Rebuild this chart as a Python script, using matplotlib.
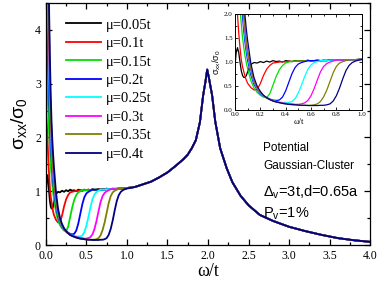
import numpy as np
import matplotlib
matplotlib.use("Agg")
import matplotlib.pyplot as plt
from matplotlib.ticker import MultipleLocator

plt.rcParams['font.family'] = 'serif'
plt.rcParams['font.serif'] = ['Liberation Serif', 'DejaVu Serif']
plt.rcParams['mathtext.fontset'] = 'custom'
plt.rcParams['mathtext.rm'] = 'Liberation Sans'
plt.rcParams['mathtext.it'] = 'Liberation Sans'

# frequency grid (omega/t) below 1.0, shared by all curves
w_low = [0.00, 0.01, 0.02, 0.03, 0.04, 0.05, 0.06, 0.07, 0.08, 0.09, 0.10,
         0.125, 0.15, 0.175, 0.2, 0.225, 0.25, 0.275, 0.3, 0.325, 0.35, 0.375,
         0.4, 0.425, 0.45, 0.475, 0.5, 0.525, 0.55, 0.575, 0.6, 0.625, 0.65,
         0.675, 0.7, 0.725, 0.75, 0.775, 0.8, 0.825, 0.85, 0.875, 0.9, 0.925,
         0.95, 0.975, 1.0]

labels = ["μ=0.05t", "μ=0.1t", "μ=0.15t", "μ=0.2t",
          "μ=0.25t", "μ=0.3t", "μ=0.35t", "μ=0.4t"]
colors = ["#000000", "#ff0000", "#00e000", "#0000ff",
          "#00ffff", "#ff00ff", "#808000", "#000080"]

s_005 = [0.9, 1.2, 1.3, 1.2, 1.0, 0.82, 0.72, 0.68, 0.68, 0.72, 0.8,
         0.95, 0.99, 0.98, 1.01, 0.99, 1.02, 1.0, 1.03, 1.01, 1.02,
         1.0, 1.03, 1.02, 1.01, 1.03, 1.02, 1.03, 1.02, 1.04, 1.02,
         1.03, 1.04, 1.03, 1.04, 1.03, 1.05, 1.04, 1.04, 1.05, 1.04,
         1.05, 1.05, 1.05, 1.05, 1.06, 1.06]
s_010 = [2.5, 2.3, 2.0, 1.6, 1.3, 1.05, 0.9, 0.8, 0.7, 0.62, 0.56,
         0.47, 0.42, 0.43, 0.55, 0.72, 0.85, 0.93, 0.98, 0.99, 1.0,
         1.01, 1.0, 1.02, 1.01, 1.02, 1.02, 1.03, 1.02, 1.03, 1.03,
         1.03, 1.04, 1.03, 1.03, 1.04, 1.04, 1.04, 1.04, 1.04, 1.05,
         1.04, 1.05, 1.05, 1.05, 1.05, 1.06]
s_015 = [4.0, 3.6, 3.0, 2.5, 2.1, 1.8, 1.5, 1.3, 1.12, 0.98, 0.86,
         0.62, 0.46, 0.37, 0.31, 0.27, 0.26, 0.34, 0.52, 0.7, 0.84,
         0.93, 0.98, 1.0, 1.02, 1.02, 1.02, 1.02, 1.02, 1.03, 1.03,
         1.03, 1.03, 1.03, 1.03, 1.03, 1.04, 1.04, 1.04, 1.04, 1.04,
         1.04, 1.05, 1.05, 1.05, 1.05, 1.06]
s_020 = [5.5, 5.0, 4.2, 3.4, 2.8, 2.3, 1.95, 1.65, 1.4, 1.2, 1.04,
         0.74, 0.54, 0.42, 0.34, 0.29, 0.26, 0.23, 0.21, 0.2, 0.21,
         0.27, 0.4, 0.58, 0.76, 0.89, 0.96, 0.99, 1.01, 1.03, 1.03,
         1.03, 1.03, 1.03, 1.03, 1.03, 1.04, 1.04, 1.04, 1.04, 1.04,
         1.04, 1.05, 1.05, 1.05, 1.05, 1.06]
s_025 = [6.5, 6.0, 5.0, 4.0, 3.2, 2.6, 2.15, 1.8, 1.52, 1.3, 1.12,
         0.8, 0.58, 0.44, 0.35, 0.29, 0.25, 0.22, 0.2, 0.18, 0.17,
         0.16, 0.16, 0.16, 0.18, 0.24, 0.36, 0.52, 0.7, 0.85, 0.94,
         0.99, 1.01, 1.03, 1.03, 1.03, 1.04, 1.04, 1.04, 1.04, 1.04,
         1.04, 1.05, 1.05, 1.05, 1.05, 1.06]
s_030 = [7.5, 7.0, 5.8, 4.6, 3.6, 2.9, 2.35, 1.95, 1.62, 1.38, 1.18,
         0.84, 0.6, 0.45, 0.36, 0.3, 0.25, 0.22, 0.19, 0.17, 0.16,
         0.15, 0.14, 0.13, 0.13, 0.12, 0.12, 0.13, 0.15, 0.2, 0.3,
         0.45, 0.63, 0.8, 0.91, 0.97, 1.0, 1.02, 1.04, 1.04, 1.04,
         1.04, 1.05, 1.05, 1.05, 1.05, 1.06]
s_035 = [8.5, 7.9, 6.5, 5.1, 4.0, 3.1, 2.5, 2.05, 1.7, 1.44, 1.24,
         0.87, 0.62, 0.46, 0.37, 0.3, 0.25, 0.22, 0.19, 0.17, 0.155,
         0.14, 0.13, 0.12, 0.115, 0.11, 0.105, 0.1, 0.1, 0.1, 0.1,
         0.11, 0.13, 0.18, 0.28, 0.42, 0.6, 0.78, 0.91, 0.98, 1.01,
         1.03, 1.05, 1.05, 1.05, 1.05, 1.06]
s_040 = [9.5, 8.8, 7.2, 5.6, 4.4, 3.5, 2.8, 2.3, 1.95, 1.68, 1.45,
         0.98, 0.68, 0.5, 0.39, 0.31, 0.26, 0.22, 0.19, 0.17, 0.155,
         0.14, 0.13, 0.12, 0.115, 0.11, 0.105, 0.1, 0.1, 0.095, 0.095,
         0.095, 0.095, 0.1, 0.1, 0.11, 0.13, 0.19, 0.3, 0.46, 0.65,
         0.82, 0.93, 0.99, 1.02, 1.04, 1.05]
curves = [s_005, s_010, s_015, s_020, s_025, s_030, s_035, s_040]

# common high-frequency part (all curves coincide)
w_high = [1.1, 1.2, 1.3, 1.4, 1.5, 1.6, 1.7, 1.75, 1.8, 1.85, 1.9, 1.94,
          1.97, 1.99, 2.01, 2.03, 2.05, 2.09, 2.15, 2.23, 2.3, 2.4, 2.5,
          2.64, 2.8, 3.0, 3.2, 3.4, 3.6, 3.8, 4.0]
s_high = [1.08, 1.13, 1.18, 1.26, 1.35, 1.47, 1.6, 1.68, 1.8, 1.95, 2.28,
          2.78, 3.05, 3.26, 3.12, 2.95, 2.79, 2.29, 1.8, 1.43, 1.17, 0.92,
          0.74, 0.56, 0.45, 0.34, 0.26, 0.19, 0.13, 0.09, 0.06]

fig = plt.figure(figsize=(3.82, 2.86), dpi=100)
ax = fig.add_axes([0.120, 0.143, 0.849, 0.847])

for s, c, lab in zip(curves, colors, labels):
    ax.plot(w_low + w_high, s + s_high, color=c, lw=1.3, label=lab)

ax.set_xlim(0, 4.0)
ax.set_ylim(0, 4.5)
ax.set_xticks(np.arange(0, 4.01, 0.5))
ax.set_xticklabels([f"{v:.1f}" for v in np.arange(0, 4.01, 0.5)])
ax.xaxis.set_minor_locator(MultipleLocator(0.25))
ax.yaxis.set_major_locator(MultipleLocator(1))
ax.yaxis.set_minor_locator(MultipleLocator(0.5))
ax.tick_params(which='both', direction='in', top=True, right=True, labelsize=8.5, width=0.9)
ax.tick_params(which='major', length=4)
ax.tick_params(which='minor', length=2.5)
for sp in ax.spines.values():
    sp.set_linewidth(0.9)
ax.set_xlabel("ω/t", fontsize=13, labelpad=1)
ax.set_ylabel(r"$\mathrm{\sigma_{xx}/\sigma_0}$", fontsize=14, labelpad=4)

ax.legend(loc='upper left', bbox_to_anchor=(0.045, 0.96), frameon=False,
          fontsize=10.5, handlelength=2.4, handletextpad=0.3, labelspacing=0.36,
          borderaxespad=0)

ax.text(0.67, 0.39, "Potential", transform=ax.transAxes, family='Liberation Sans', fontsize=8.5)
ax.text(0.67, 0.315, "Gaussian-Cluster", transform=ax.transAxes, family='Liberation Sans', fontsize=8.5)
ax.text(0.67, 0.20, r"$\mathrm{\Delta_v}$=3t,d=0.65a", transform=ax.transAxes,
        family='Liberation Sans', fontsize=10.5)
ax.text(0.67, 0.115, r"$\mathrm{P_v}$=1%", transform=ax.transAxes,
        family='Liberation Sans', fontsize=10.5)

# inset
ins = fig.add_axes([0.615, 0.615, 0.332, 0.336])
for s, c in zip(curves, colors):
    ins.plot(w_low + w_high, s + s_high, color=c, lw=0.9)
ins.set_xlim(0, 1.0)
ins.set_ylim(0, 2.0)
ins.xaxis.set_major_locator(MultipleLocator(0.2))
ins.xaxis.set_minor_locator(MultipleLocator(0.1))
ins.yaxis.set_major_locator(MultipleLocator(0.5))
ins.yaxis.set_minor_locator(MultipleLocator(0.25))
ins.tick_params(which='both', direction='in', top=True, right=True, labelsize=5, width=0.6, pad=1.5)
ins.tick_params(which='major', length=2.5)
ins.tick_params(which='minor', length=1.5)
for sp in ins.spines.values():
    sp.set_linewidth(0.7)
ins.set_xlabel("ω/t", fontsize=6, labelpad=0.5)
ins.set_ylabel(r"$\mathrm{\sigma_{xx}/\sigma_0}$", fontsize=6.5, labelpad=1)

fig.savefig("out.png", dpi=100)
